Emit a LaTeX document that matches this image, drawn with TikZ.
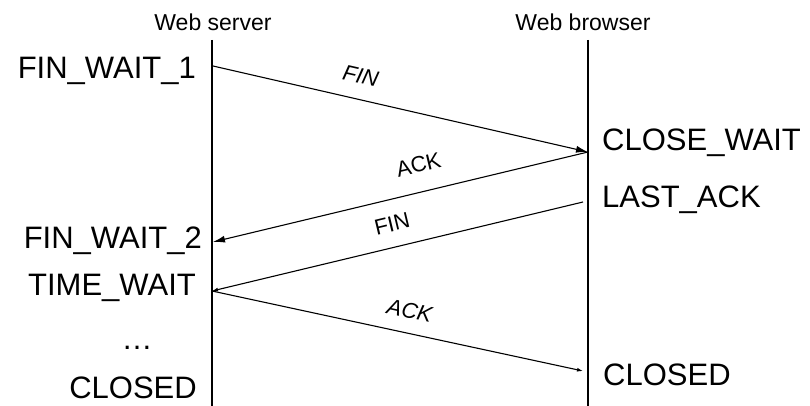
\documentclass[tikz,border=0pt]{standalone}
\usepackage{fontspec}
\setmainfont{Liberation Sans}
\usetikzlibrary{arrows.meta}
\tikzstyle{host} = [inner sep=0pt, anchor=base, font=\fontsize{23}{26}\selectfont]
\tikzstyle{stateleft} = [inner sep=0pt, anchor=base east, font=\fontsize{31}{36}\selectfont]
\tikzstyle{stateright} = [inner sep=0pt, anchor=base west, font=\fontsize{31}{36}\selectfont]
\tikzstyle{msg} = [inner sep=0pt, sloped, font=\fontsize{22}{26}\selectfont]
\tikzstyle{lifeline} = [line width=1.1pt]
\tikzstyle{arrow} = [line width=1.1pt, -{Latex[length=12pt, width=7pt]}]
\tikzstyle{smallarrow} = [line width=1.1pt, -{Latex[length=6pt, width=4pt]}]

\begin{document}
\begin{tikzpicture}[x=1pt, y=-1pt]
    \useasboundingbox (0,0) rectangle (810,406);

    \node (server) [host] at (213,31) {Web server};
    \node (browser) [host] at (583,31) {Web browser};

    \coordinate (server_top) at (212,40);
    \coordinate (server_bot) at (212,406);
    \coordinate (browser_top) at (588,40);
    \coordinate (browser_bot) at (588,406);

    \coordinate (s_fin) at (213,66);
    \coordinate (b_fin) at (588,152);
    \coordinate (s_ack) at (213,242);
    \coordinate (b_fin2) at (583,202);
    \coordinate (s_fin2) at (212,291);
    \coordinate (b_ack2) at (583,371);

    \node (fin_wait_1) [stateleft] at (196,79) {FIN\_WAIT\_1};
    \node (fin_wait_2) [stateleft] at (202,248) {FIN\_WAIT\_2};
    \node (time_wait) [stateleft] at (196,295) {TIME\_WAIT};
    \node (dots) [inner sep=0pt, anchor=base, font=\fontsize{31}{36}\selectfont] at (137,349) {…};
    \node (closed_s) [stateleft] at (197,398) {CLOSED};
    \node (close_wait) [stateright] at (602,150) {CLOSE\_WAIT};
    \node (last_ack) [stateright] at (602,207) {LAST\_ACK};
    \node (closed_b) [stateright] at (603,385) {CLOSED};

    \draw [lifeline] (server_top) -- (server_bot);
    \draw [lifeline] (browser_top) -- (browser_bot);

    \draw [arrow] (s_fin) -- node[msg, pos=0.38, above=15pt] {\itshape FIN} (b_fin);
    \draw [arrow] (b_fin) -- node[msg, pos=0.435, above=19pt] {ACK} (s_ack);
    \draw [smallarrow] (b_fin2) -- node[msg, pos=0.5, above=15pt] {FIN} (s_fin2);
    \draw [smallarrow] (s_fin2) -- node[msg, pos=0.52, above=14pt] {\itshape ACK} (b_ack2);
\end{tikzpicture}
\end{document}
